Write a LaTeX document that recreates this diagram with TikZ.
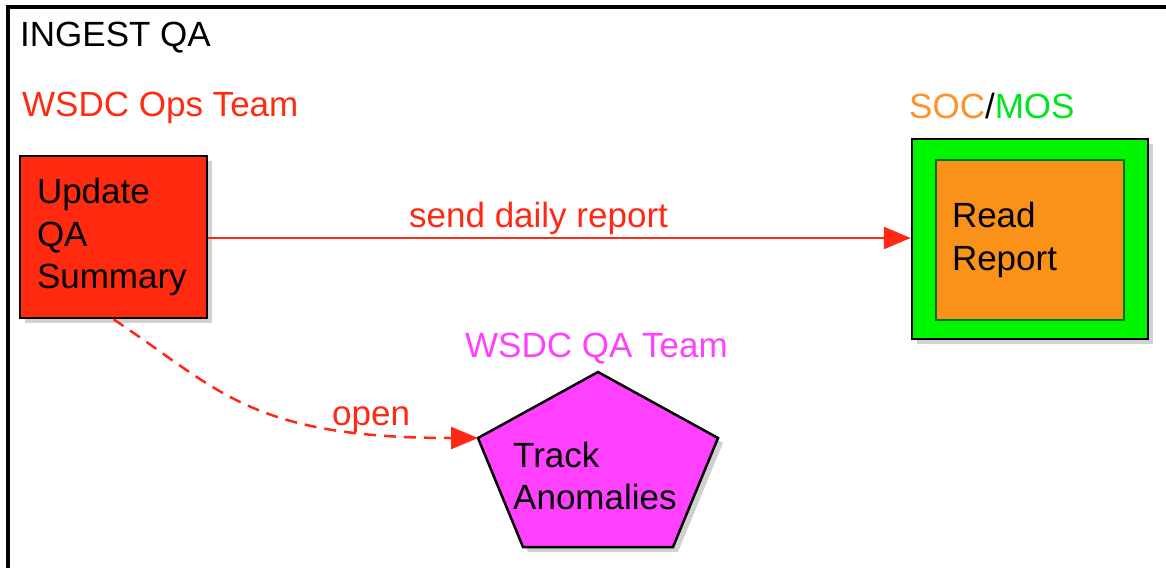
\documentclass[tikz,border=0pt]{standalone}
\usepackage{fontspec}
\setmainfont{Liberation Sans}
\usetikzlibrary{arrows.meta,shadows}
\definecolor{opsred}{RGB}{255,42,16}
\definecolor{arrred}{RGB}{255,40,20}
\definecolor{qamag}{RGB}{255,64,255}
\definecolor{mosgreen}{RGB}{0,245,0}
\definecolor{mostext}{RGB}{0,230,30}
\definecolor{socorange}{RGB}{250,145,25}
\definecolor{soctext}{RGB}{255,145,40}
\definecolor{darkgr}{RGB}{0,120,0}
\tikzset{
  big/.style={font=\fontsize{35}{42.5}\selectfont},
  shad/.style={drop shadow={shadow xshift=5pt,shadow yshift=-5pt,opacity=0.3,fill=black!60}},
  taskbox/.style={big, draw=black, line width=2.5pt, inner sep=0pt, align=left},
  conn/.style={draw=arrred, line width=2.5pt, -{Triangle[length=27pt,width=22pt]}},
  lbl/.style={big, inner sep=0pt, anchor=base west},
}
\begin{document}
\begin{tikzpicture}[x=1pt,y=-1pt]
\useasboundingbox (0,0) rectangle (1166,567);
% frame
\draw[line width=3.5pt] (8,569) -- (8,7) -- (1168,7);
% titles
\node[lbl] (title) at (20,47) {INGEST QA};
\node[lbl, text=opsred] (opsteam) at (22,117) {WSDC Ops Team};
\node[lbl] (socmos) at (909,118) {\textcolor{soctext}{SOC}/\textcolor{mostext}{MOS}};
\node[lbl, text=qamag] (qateam) at (465,357) {WSDC QA Team};
% update box
\node[taskbox, shad, fill=opsred, minimum width=187pt, minimum height=162pt, text width=153pt] (upd) at (113.5,237) {Update\\QA\\Summary};
% read report box
\node[draw=black, line width=2.5pt, fill=mosgreen, shad, minimum width=236pt, minimum height=200pt, inner sep=0pt] (mos) at (1030,239) {};
\node[big, draw=darkgr, line width=1.2pt, fill=socorange, inner sep=0pt, align=left, minimum width=188pt, minimum height=160pt, text width=156pt] (read) at (1030,240) {Read\\Report};
% pentagon
\coordinate (pt) at (598,372);
\coordinate (pl) at (478,438);
\coordinate (pr) at (718,438);
\coordinate (pbl) at (523,547);
\coordinate (pbr) at (673,547);
\draw[line width=2.5pt, fill=qamag, shad, line join=miter] (pt) -- (pr) -- (pbr) -- (pbl) -- (pl) -- cycle;
\node[big, inner sep=0pt, align=left, anchor=west] (track) at (513,476) {Track\\Anomalies};
% connectors
\draw[conn] (upd.east |- 0,238) -- (mos.west |- 0,238);
\node[lbl, text=arrred] (sendlbl) at (409,227) {send daily report};
\draw[conn, dash pattern=on 12pt off 8pt] (upd.south) .. controls (220,390) and (250,438) .. (pl);
\node[lbl, text=arrred] (openlbl) at (332,425) {open};
\end{tikzpicture}
\end{document}
